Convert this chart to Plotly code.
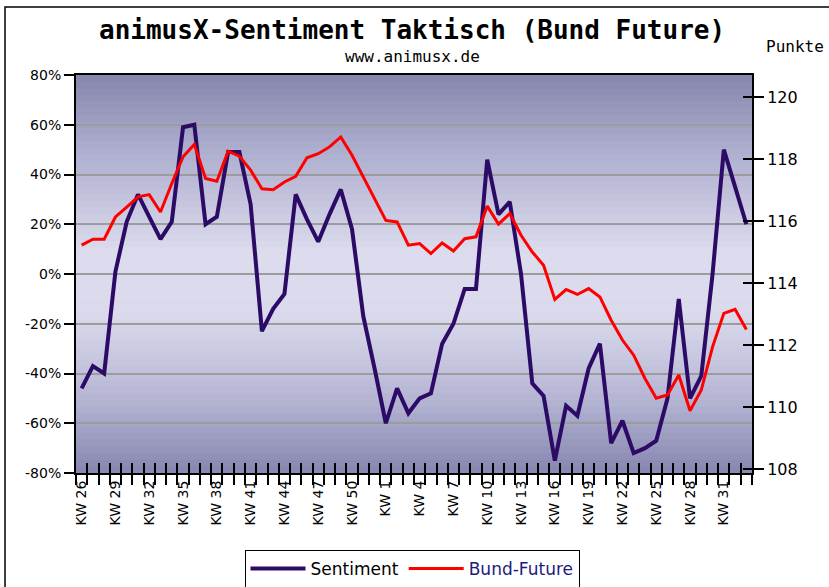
import plotly.graph_objects as go

# ---------------- data ----------------
week_labels = ["KW 26", "KW 27", "KW 28", "KW 29", "KW 30", "KW 31", "KW 32", "KW 33", "KW 34",
               "KW 35", "KW 36", "KW 37", "KW 38", "KW 39", "KW 40", "KW 41", "KW 42", "KW 43",
               "KW 44", "KW 45", "KW 46", "KW 47", "KW 48", "KW 49", "KW 50", "KW 51", "KW 52",
               "KW 1", "KW 2", "KW 3", "KW 4", "KW 5", "KW 6", "KW 7", "KW 8", "KW 9",
               "KW 10", "KW 11", "KW 12", "KW 13", "KW 14", "KW 15", "KW 16", "KW 17", "KW 18",
               "KW 19", "KW 20", "KW 21", "KW 22", "KW 23", "KW 24", "KW 25", "KW 26", "KW 27",
               "KW 28", "KW 29", "KW 30", "KW 31", "KW 32", "KW 33"]
week_years = [2006] * 27 + [2007] * 33

sentiment = [-46, -37, -40, 1, 21, 32, 23, 14, 21, 59, 60, 20, 23, 49, 49, 28, -23, -14, -8, 32,
             22, 13, 24, 34, 18, -17, -38, -60, -46, -56, -50, -48, -28, -20, -6, -6, 46, 24, 29, 0,
             -44, -49, -75, -53, -57, -38, -28, -68, -59, -72, -70, -67, -50, -10, -50, -41, 0, 50, 35, 20]

bund_future = [115.23, 115.42, 115.42, 116.14, 116.46, 116.79, 116.86, 116.30, 117.22, 118.08,
               118.48, 117.38, 117.29, 118.26, 118.10, 117.65, 117.05, 117.02, 117.27, 117.45,
               118.05, 118.18, 118.40, 118.72, 118.13, 117.43, 116.73, 116.03, 115.98, 115.23,
               115.28, 114.96, 115.30, 115.04, 115.44, 115.50, 116.49, 115.91, 116.25, 115.55,
               115.01, 114.58, 113.48, 113.80, 113.64, 113.83, 113.56, 112.81, 112.17, 111.68,
               110.93, 110.29, 110.40, 111.04, 109.89, 110.56, 111.95, 113.03, 113.16, 112.51]

left_ticks = [-80, -60, -40, -20, 0, 20, 40, 60, 80]
right_ticks = [108, 110, 112, 114, 116, 118, 120]
label_every = 3

# unique category keys, displayed with week labels
cats = [f"{y}-{w}" for y, w in zip(week_years, week_labels)]
tick_text = [w if i % label_every == 0 else "" for i, w in enumerate(week_labels)]

# ---------------- layout geometry ----------------
W, H = 829, 587
L, R, T, B = 76, 752, 75, 473

def px(x):
    return (x - L) / (R - L)

def py(y):
    return (B - y) / (B - T)

FONT = "DejaVu Sans"
MONO = "DejaVu Sans Mono"

fig = go.Figure()

fig.add_trace(go.Scatter(x=cats, y=sentiment, name="Sentiment", mode="lines",
                         line=dict(color="#2b0b66", width=4), xaxis="x", yaxis="y"))
fig.add_trace(go.Scatter(x=cats, y=bund_future,
                         name="<span style='color:#1c1c7a'>Bund-Future</span>", mode="lines",
                         line=dict(color="#ff0000", width=3), xaxis="x", yaxis="y2"))
# helper traces for the inner half of the crossing ticks
fig.add_trace(go.Scatter(x=cats, y=[None] * len(cats), xaxis="x2", yaxis="y",
                         showlegend=False, hoverinfo="skip"))
fig.add_trace(go.Scatter(x=cats, y=[None] * len(cats), xaxis="x", yaxis="y3",
                         showlegend=False, hoverinfo="skip"))

# gradient plot background built from horizontal bands
stops = [(0.0, (134, 134, 174)), (0.2, (176, 176, 208)), (0.45, (220, 220, 238)),
         (0.6, (218, 218, 236)), (0.8, (184, 184, 214)), (1.0, (134, 134, 176))]

def col(t):
    for (t0, c0), (t1, c1) in zip(stops[:-1], stops[1:]):
        if t0 <= t <= t1:
            f = (t - t0) / (t1 - t0)
            return "rgb(%d,%d,%d)" % tuple(round(a + (b - a) * f) for a, b in zip(c0, c1))
    return "rgb(%d,%d,%d)" % stops[-1][1]

shapes = []
NB = 60
for k in range(NB):
    t = (k + 0.5) / NB
    shapes.append(dict(type="rect", xref="paper", yref="paper", x0=0, x1=1,
                       y0=1 - (k + 1) / NB - 0.002, y1=1 - k / NB,
                       fillcolor=col(t), line=dict(width=0), layer="below"))
# outer frame
shapes.append(dict(type="rect", xref="paper", yref="paper", x0=px(5), x1=px(840),
                   y0=py(600), y1=py(7), line=dict(color="black", width=1.5),
                   fillcolor="rgba(0,0,0,0)", layer="above"))

annotations = [
    dict(text="<b>animusX-Sentiment Taktisch (Bund Future)</b>", x=px(412), y=py(30),
         xref="paper", yref="paper", showarrow=False, xanchor="center", yanchor="middle",
         font=dict(family=MONO, size=26, color="black")),
    dict(text="www.animusx.de", x=px(412), y=py(57), xref="paper", yref="paper",
         showarrow=False, xanchor="center", yanchor="middle",
         font=dict(family=MONO, size=16, color="black")),
    dict(text="Punkte", x=px(795), y=py(47), xref="paper", yref="paper",
         showarrow=False, xanchor="center", yanchor="middle",
         font=dict(family=MONO, size=16, color="black")),
]

n = len(cats)
fig.update_layout(
    width=W, height=H,
    margin=dict(l=L, r=W - R, t=T, b=H - B, autoexpand=False),
    paper_bgcolor="white", plot_bgcolor="rgba(0,0,0,0)",
    font=dict(family=FONT, color="black"),
    shapes=shapes, annotations=annotations,
    xaxis=dict(type="category", categoryorder="array", categoryarray=cats,
               range=[-0.5, n - 0.5], tickson="boundaries", tickmode="array",
               tickvals=cats, ticktext=tick_text, tickangle=-90,
               ticks="outside", ticklen=10, tickwidth=2, tickcolor="black",
               showline=True, linecolor="black", linewidth=2, mirror=True,
               showgrid=False, zeroline=False, tickfont=dict(size=14, family=FONT)),
    xaxis2=dict(type="category", categoryorder="array", categoryarray=cats, overlaying="x",
                range=[-0.5, n - 0.5], tickson="boundaries", tickmode="array",
                tickvals=cats, showticklabels=False, ticks="inside", ticklen=10,
                tickwidth=2, tickcolor="black", showline=False, showgrid=False,
                zeroline=False, side="bottom"),
    yaxis=dict(range=[-80, 80], tickmode="array", tickvals=left_ticks,
               ticktext=[f"{v}%" for v in left_ticks], ticks="outside", ticklen=10,
               tickwidth=2, tickcolor="black", showline=True, linecolor="black",
               linewidth=2, showgrid=True, gridcolor="#9c9c9c", gridwidth=1.5,
               zeroline=False, tickfont=dict(size=14, family=FONT)),
    yaxis2=dict(range=[107.88, 120.72], overlaying="y", side="right", tickmode="array",
                tickvals=right_ticks, ticks="outside", ticklen=10, tickwidth=2,
                tickcolor="black", showline=True, linecolor="black", linewidth=2,
                showgrid=False, zeroline=False, tickfont=dict(size=16, family=FONT)),
    yaxis3=dict(range=[107.88, 120.72], overlaying="y", side="right", tickmode="array",
                tickvals=right_ticks, showticklabels=False, ticks="inside", ticklen=9,
                tickwidth=2, tickcolor="black", showline=False, showgrid=False,
                zeroline=False),
    legend=dict(orientation="h", x=px(412), xanchor="center", y=py(569), yanchor="middle",
                bgcolor="white", bordercolor="black", borderwidth=1,
                font=dict(size=17, family=FONT, color="black"), itemwidth=55,
                tracegroupgap=0),
    showlegend=True,
)

fig.write_html("out.html", config={"displayModeBar": False},
               post_script="document.body.style.margin='0';document.body.style.overflow='hidden';")
